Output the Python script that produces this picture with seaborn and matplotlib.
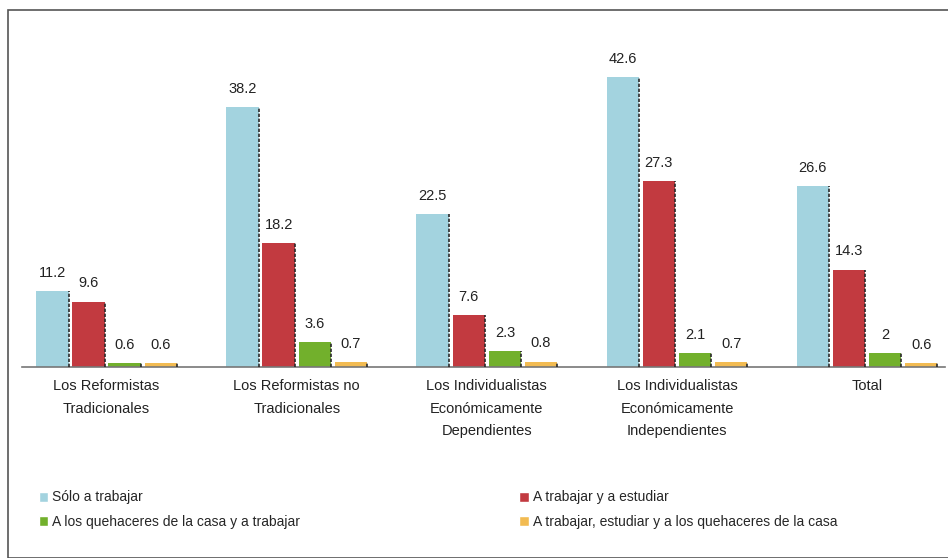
import pandas as pd
import matplotlib.pyplot as plt
import seaborn as sns
from matplotlib.patches import Rectangle, Patch

grupos = ["Los Reformistas\nTradicionales",
          "Los Reformistas no\nTradicionales",
          "Los Individualistas\nEconómicamente\nDependientes",
          "Los Individualistas\nEconómicamente\nIndependientes",
          "Total"]
series = ["Sólo a trabajar",
          "A trabajar y a estudiar",
          "A los quehaceres de la casa y a trabajar",
          "A trabajar, estudiar y a los quehaceres de la casa"]
solo_trabajar = [11.2, 38.2, 22.5, 42.6, 26.6]
trabajar_estudiar = [9.6, 18.2, 7.6, 27.3, 14.3]
quehaceres_trabajar = [0.6, 3.6, 2.3, 2.1, 2]
todo = [0.6, 0.7, 0.8, 0.7, 0.6]
colores = ["#a3d3df", "#c23a40", "#72b02c", "#f2bb52"]

rows = []
for s, vals in zip(series, [solo_trabajar, trabajar_estudiar, quehaceres_trabajar, todo]):
    for g, v in zip(grupos, vals):
        rows.append({"grupo": g, "serie": s, "valor": v})
df = pd.DataFrame(rows)

sns.set_style("white")
plt.rcParams["font.family"] = ["Liberation Sans", "DejaVu Sans"]

fig = plt.figure(figsize=(9.48, 5.58), dpi=100)
ax = fig.add_axes([22 / 948, 191 / 558, 923 / 948, 327 / 558])

sns.barplot(data=df, x="grupo", y="valor", hue="serie", palette=colores,
            saturation=1, width=0.76, gap=0.1, ax=ax, linewidth=0,
            legend=False)

# sombra oscura en el lado derecho de cada barra
for p in ax.patches:
    x1 = p.get_x() + p.get_width()
    ax.plot([x1, x1], [0, p.get_height()], color="#2a2a2a", lw=1.2,
            ls=(0, (2, 1)), zorder=3)

for c in ax.containers:
    ax.bar_label(c, fmt="%g", padding=8, fontsize=10.5, color="#222222")

ax.set_xlim(-0.445, 4.41)
ax.set_ylim(0, 48)
ax.set_xlabel("")
ax.set_ylabel("")
ax.set_yticks([])
ax.tick_params(axis="x", length=0, pad=9, labelsize=10.5, colors="#222222")
for t in ax.get_xticklabels():
    t.set_linespacing(1.75)
for sp in ["left", "right", "top"]:
    ax.spines[sp].set_visible(False)
ax.spines["bottom"].set_color("#777777")
ax.spines["bottom"].set_linestyle((0, (2, 1)))
ax.spines["bottom"].set_linewidth(1.2)

handles = [Patch(facecolor=c, label=s) for c, s in zip(colores, series)]
fig.legend(handles=[handles[0], handles[2]], loc="upper left",
           bbox_to_anchor=(26 / 948, 1 - 478 / 558), frameon=False,
           fontsize=10, handlelength=0.7, handleheight=0.7, handletextpad=0.3,
           labelspacing=0.75)
fig.legend(handles=[handles[1], handles[3]], loc="upper left",
           bbox_to_anchor=(507 / 948, 1 - 478 / 558), frameon=False,
           fontsize=10, handlelength=0.7, handleheight=0.7, handletextpad=0.3,
           labelspacing=0.75)

fig.patches.append(Rectangle((8 / 948, 0), 945 / 948, 1 - 10 / 558,
                             transform=fig.transFigure, fill=False,
                             edgecolor="#555555", linewidth=1.2))

plt.savefig("out.png", dpi=100)
